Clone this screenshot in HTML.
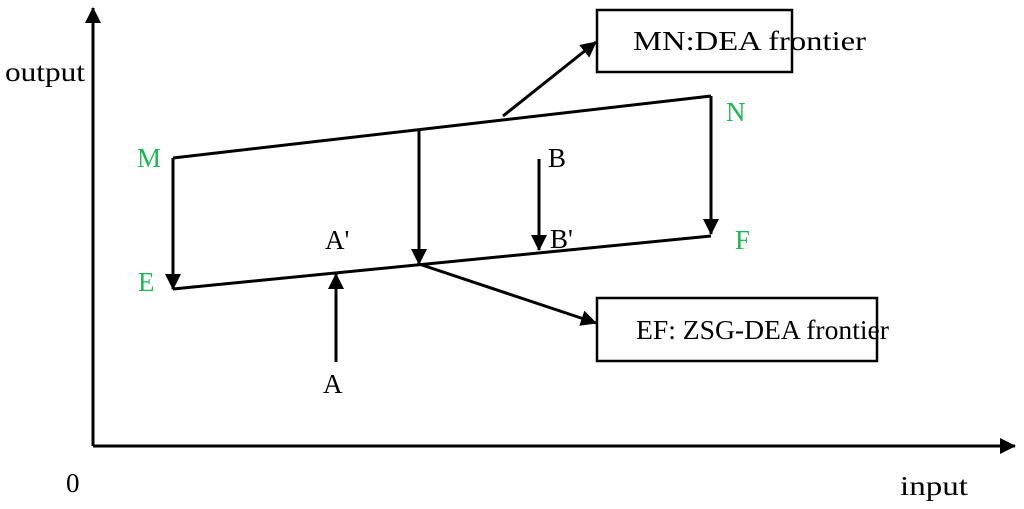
<!DOCTYPE html>
<html><head><style>body{margin:0;background:#fff}svg{display:block}</style></head><body>
<svg width="1024" height="509" viewBox="0 0 1024 509" xmlns="http://www.w3.org/2000/svg" font-family="Liberation Serif, serif" font-size="27">
<defs>
<marker id="b" markerWidth="16" markerHeight="16" refX="15" refY="8" orient="auto" markerUnits="userSpaceOnUse" viewBox="0 0 16 16"><path d="M0,0 L16,8 L0,16 z" fill="#000"/></marker></defs>
<g stroke="#000" stroke-width="3" fill="none">
<line x1="93" y1="446" x2="93" y2="8" marker-end="url(#b)"/>
<line x1="93" y1="446" x2="1015" y2="446" marker-end="url(#b)"/>
<polyline points="173,158 711,96"/>
<polyline points="173,289 711,236"/>
<line x1="173" y1="158" x2="173" y2="289" marker-end="url(#b)"/>
<line x1="711" y1="96" x2="711" y2="234" marker-end="url(#b)"/>
<line x1="419" y1="131" x2="419" y2="264" marker-end="url(#b)"/>
<line x1="539" y1="159" x2="539" y2="250" marker-end="url(#b)"/>
<line x1="336" y1="362" x2="336" y2="274" marker-end="url(#b)"/>
<line x1="503" y1="116" x2="596" y2="42" marker-end="url(#b)"/>
<line x1="419" y1="264" x2="596" y2="323" marker-end="url(#b)"/>
<rect x="597" y="10" width="195" height="62" stroke-width="2.5"/>
<rect x="597" y="298" width="280" height="63" stroke-width="2.5"/>
</g>
<g fill="#000">
<text x="5" y="81" textLength="80" lengthAdjust="spacingAndGlyphs">output</text>
<text x="66" y="492">0</text>
<text x="900" y="495" textLength="68" lengthAdjust="spacingAndGlyphs">input</text>
<text x="633" y="50" textLength="233" lengthAdjust="spacingAndGlyphs">MN:DEA frontier</text>
<text x="636" y="339" textLength="253" lengthAdjust="spacingAndGlyphs">EF: ZSG-DEA frontier</text>
<text x="548" y="167">B</text>
<text x="550" y="248">B'</text>
<text x="325" y="249">A'</text>
<text x="323" y="393">A</text>
</g>
<g fill="#1db954">
<text x="137" y="167">M</text>
<text x="726" y="121">N</text>
<text x="138" y="291">E</text>
<text x="735" y="249">F</text>
</g>
</svg>
</body></html>
